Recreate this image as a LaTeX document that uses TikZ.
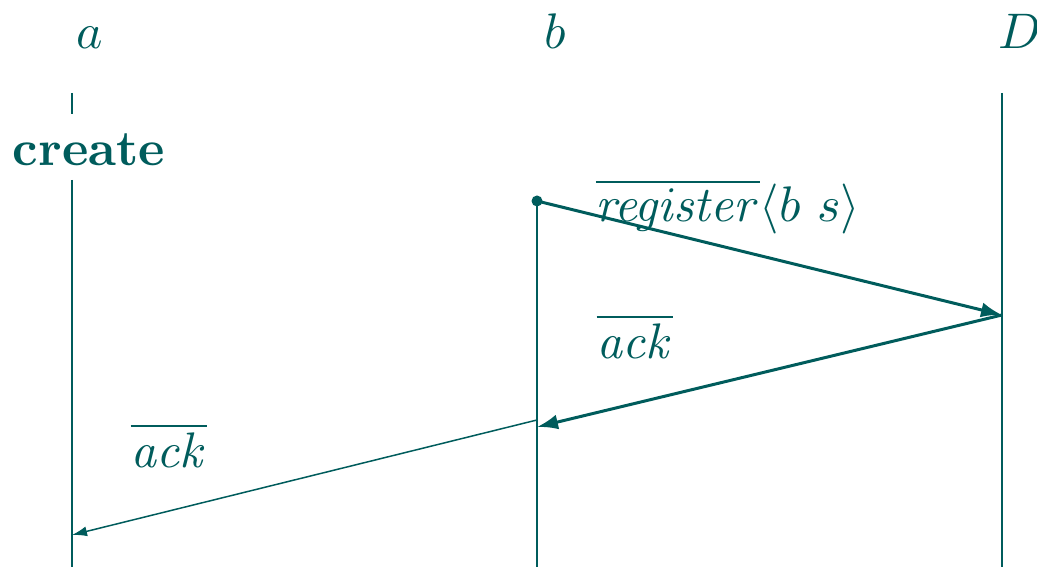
\documentclass[tikz,border=0pt]{standalone}
\usetikzlibrary{arrows.meta}
\definecolor{tealc}{RGB}{0,92,92}
\begin{document}
\begin{tikzpicture}[x=0.2pt,y=-0.2pt,
  every node/.style={text=tealc},
  life/.style={draw=tealc,line width=0.3pt},
  bigmsg/.style={draw=tealc,line width=0.6pt,-{Latex[length=4.2pt,width=3pt]}},
  smallmsg/.style={draw=tealc,line width=0.3pt,-{Latex[length=3pt,width=2pt]}},
  lbl/.style={anchor=base}]
\useasboundingbox (0,0) rectangle (1037,567);
% lifeline ends
\coordinate (aT) at (72,93);
\coordinate (aG1) at (72,114);
\coordinate (aG2) at (72,180);
\coordinate (aB) at (72,567);
\coordinate (bT) at (537,201);
\coordinate (bB) at (537,567);
\coordinate (DT) at (1002,93);
\coordinate (DB) at (1002,567);
% message ends
\coordinate (m1e) at (1002,315);
\coordinate (m2e) at (537,427);
\coordinate (m3s) at (537,420);
\coordinate (m3e) at (72,535);
% names
\node[lbl] (na) at (90,49) {$a$};
\node[lbl] (nb) at (555,49) {$b$};
\node[lbl] (nD) at (1020,49) {$D$};
% lifelines
\draw[life] (aT) -- (aG1);
\draw[life] (aG2) -- (aB);
\draw[life] (bT) -- (bB);
\draw[life] (DT) -- (DB);
\node[lbl] (create) at (89,166) {\textbf{create}};
% messages
\draw[bigmsg] (bT) -- (m1e);
\fill[tealc] (bT) circle[radius=1.1pt];
\draw[bigmsg] (m1e) -- (m2e);
\draw[smallmsg] (m3s) -- (m3e);
% labels
\node[lbl] (l1) at (728,222) {$\overline{\mathit{register}}\langle b\ s\rangle$};
\node[lbl] (l2) at (635,359) {$\overline{\mathit{ack}}$};
\node[lbl] (l3) at (169,468) {$\overline{\mathit{ack}}$};
\end{tikzpicture}
\end{document}
